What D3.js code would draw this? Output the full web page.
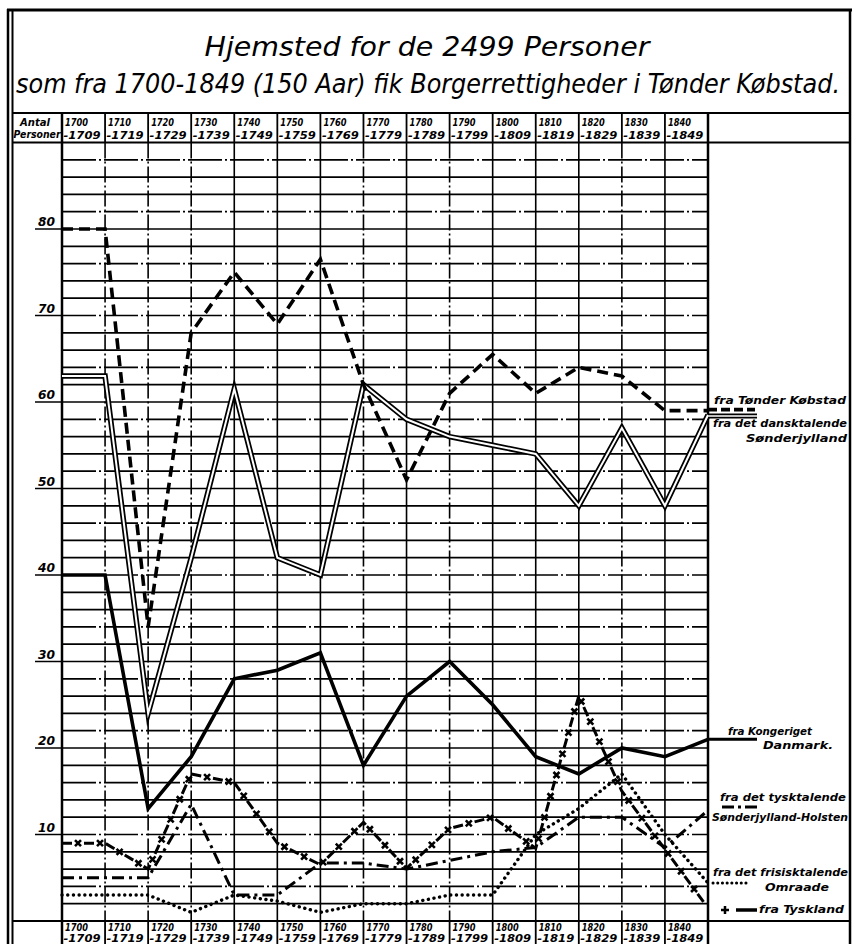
<!DOCTYPE html>
<html>
<head>
<meta charset="utf-8">
<script src="https://cdn.jsdelivr.net/npm/d3@7"></script>
<style>
  body { margin: 0; background: #fff; }
  svg { display: block; }
  text { font-family: "DejaVu Sans Condensed", "DejaVu Sans", sans-serif; font-style: italic; fill: #000; }
</style>
</head>
<body>
<svg id="chart" width="855" height="944"></svg>
<script>
// -------------------------
// Data (values per 10-year period)
// -------------------------
const periods = ["1700-1709", "1710-1719", "1720-1729", "1730-1739", "1740-1749",
    "1750-1759", "1760-1769", "1770-1779", "1780-1789", "1790-1799",
    "1800-1809", "1810-1819", "1820-1829", "1830-1839", "1840-1849"];
const yTicks = [10, 20, 30, 40, 50, 60, 70, 80];

const tonderKobstad = [80, 34, 68, 75, 69, 76.5, 62, 51, 61, 65.5, 61, 64, 63, 59, 59];
const danskSonderjylland = [63, 24, 42, 61.5, 42, 40, 62, 58, 56, 55, 54, 48, 57, 48, 58.5];
const kongerigetDanmark = [40, 13, 19, 28, 29, 31, 18, 26, 30, 25, 19, 17, 20, 19, 21];
const tyskSonderjylland = [5, 5, 13.5, 3, 3, 6.7, 6.7, 6, 7, 8, 8.5, 12, 12, 8.5, 12.8];
const frisiskOmraade = [3, 3, 1, 3, 2.3, 1, 2, 2, 3, 3, 10, 13, 17, 10, 4.4];
const tyskland = [9, 6, 17, 16, 9, 6.5, 11.4, 6.1, 10.7, 12, 8.4, 26, 15, 8.3, 1.5];

// -------------------------
// Layout
// -------------------------
const svg = d3.select("#chart");
const LEFT = 62, RIGHT = 708, FRAME_L = 12.5, FRAME_R = 850;
const HEAD_TOP = 113, BOTTOM_ROW = 921;

const x = d3.scaleLinear().domain([0, periods.length]).range([LEFT, RIGHT]);
const y = d3.scaleLinear().domain([0, 90]).range([BOTTOM_ROW, 142.5]);
const HEAD_BOT = y(90);

// each period value is plotted at the end of its decade, with a flat lead-in
const pts = vals => [[0, vals[0]], ...vals.map((v, i) => [i + 1, v])];
const line = d3.line().x(d => x(d[0])).y(d => y(d[1]));

// -------------------------
// Frame
// -------------------------
const frame = svg.append("g").attr("stroke", "#000").attr("fill", "none");
frame.append("line").attr("x1", 7).attr("x2", 852).attr("y1", 10).attr("y2", 10).attr("stroke-width", 3);
frame.append("line").attr("x1", 8).attr("x2", 8).attr("y1", 9).attr("y2", 944).attr("stroke-width", 2.5);
frame.append("line").attr("x1", FRAME_L).attr("x2", FRAME_L).attr("y1", 10).attr("y2", 944).attr("stroke-width", 2);
frame.append("line").attr("x1", FRAME_R).attr("x2", FRAME_R).attr("y1", 9).attr("y2", 944).attr("stroke-width", 2.5);

// title
svg.append("text").attr("x", 427).attr("y", 56).attr("text-anchor", "middle")
    .attr("font-size", 27).attr("textLength", 445).attr("lengthAdjust", "spacingAndGlyphs")
    .text("Hjemsted for de 2499 Personer");
svg.append("text").attr("x", 16).attr("y", 93)
    .attr("font-size", 27).attr("textLength", 824).attr("lengthAdjust", "spacingAndGlyphs")
    .text("som fra 1700-1849 (150 Aar) fik Borgerrettigheder i Tønder Købstad.");

// -------------------------
// Grid
// -------------------------
const grid = svg.append("g").attr("stroke", "#000").attr("fill", "none");
d3.range(2, 90, 2).forEach((v, i) => {
    grid.append("line")
        .attr("x1", LEFT).attr("x2", RIGHT).attr("y1", y(v)).attr("y2", y(v))
        .attr("stroke-width", 1.7)
        .attr("stroke-dasharray", i % 3 === 1 ? "34,3,2,3" : null);
});
const dashedCols = [1, 2, 3, 7, 9, 13];
d3.range(1, periods.length).forEach(i => {
    grid.append("line")
        .attr("x1", x(i)).attr("x2", x(i)).attr("y1", HEAD_BOT).attr("y2", BOTTOM_ROW)
        .attr("stroke-width", 1.6)
        .attr("stroke-dasharray", dashedCols.includes(i) ? "16,3,2,3" : null);
});

// header and bottom rows
const rows = svg.append("g").attr("stroke", "#000").attr("fill", "none");
[HEAD_TOP, HEAD_BOT, BOTTOM_ROW].forEach(yy => {
    rows.append("line").attr("x1", FRAME_L).attr("x2", FRAME_R).attr("y1", yy).attr("y2", yy).attr("stroke-width", 2.2);
});
d3.range(0, periods.length + 1).forEach(i => {
    const w = (i === 0 || i === periods.length) ? 2.5 : 1.8;
    rows.append("line").attr("x1", x(i)).attr("x2", x(i)).attr("y1", HEAD_TOP).attr("y2", HEAD_BOT).attr("stroke-width", w);
    rows.append("line").attr("x1", x(i)).attr("x2", x(i)).attr("y1", BOTTOM_ROW).attr("y2", 944).attr("stroke-width", w);
});
rows.append("line").attr("x1", LEFT).attr("x2", LEFT).attr("y1", HEAD_BOT).attr("y2", BOTTOM_ROW).attr("stroke-width", 2.5);
rows.append("line").attr("x1", RIGHT).attr("x2", RIGHT).attr("y1", HEAD_BOT).attr("y2", BOTTOM_ROW).attr("stroke-width", 2.5);

// period labels (top and bottom)
const lab = svg.append("g").attr("font-weight", "bold");
periods.forEach((p, i) => {
    const [a, b] = p.split("-");
    [[126, 138.5, 10.5], [930.5, 941.5, 10]].forEach(([y1, y2, fs]) => {
        lab.append("text").attr("x", x(i) + 3).attr("y", y1).attr("font-size", fs).text(a)
            .attr("textLength", 23).attr("lengthAdjust", "spacingAndGlyphs");
        lab.append("text").attr("x", x(i) + 1.5).attr("y", y2).attr("font-size", fs).text("-" + b)
            .attr("textLength", 37).attr("lengthAdjust", "spacingAndGlyphs");
    });
});
lab.append("text").attr("x", 20).attr("y", 126).attr("font-size", 10).text("Antal")
    .attr("textLength", 30).attr("lengthAdjust", "spacingAndGlyphs");
lab.append("text").attr("x", 13.5).attr("y", 138).attr("font-size", 10).text("Personer")
    .attr("textLength", 47).attr("lengthAdjust", "spacingAndGlyphs");

// y labels
const yl = svg.append("g");
yTicks.forEach(v => {
    yl.append("line").attr("x1", 35).attr("x2", LEFT).attr("y1", y(v)).attr("y2", y(v))
        .attr("stroke", "#000").attr("stroke-width", 1.5);
    yl.append("text").attr("x", 38).attr("y", y(v) - 3).attr("font-size", 13).attr("font-weight", "bold")
        .attr("textLength", 17).attr("lengthAdjust", "spacingAndGlyphs").text(v);
});

// -------------------------
// Series
// -------------------------
const plot = svg.append("g").attr("fill", "none").attr("stroke", "#000");

plot.append("path").attr("d", line(pts(frisiskOmraade)))
    .attr("stroke-width", 3.4).attr("stroke-dasharray", "0.1,5.6").attr("stroke-linecap", "round");

plot.append("path").attr("d", line(pts(tyskSonderjylland)))
    .attr("stroke-width", 3).attr("stroke-dasharray", "12,5,3,5");

const tyskPath = plot.append("path").attr("d", line(pts(tyskland)))
    .attr("stroke-width", 3).attr("stroke-dasharray", "10,12");
const tyskLen = tyskPath.node().getTotalLength();
for (let s = 16; s < tyskLen - 4; s += 22) {
    const p = tyskPath.node().getPointAtLength(s);
    plot.append("path").attr("d", "M-3,-3L3,3M-3,3L3,-3")
        .attr("transform", `translate(${p.x},${p.y})`).attr("stroke-width", 2.6);
}

plot.append("path").attr("d", line(pts(kongerigetDanmark)))
    .attr("stroke-width", 3.6).attr("stroke-linejoin", "miter");

const dansk = line(pts(danskSonderjylland));
plot.append("path").attr("d", dansk).attr("stroke-width", 5.5).attr("stroke-miterlimit", 8);
plot.append("path").attr("d", dansk).attr("stroke", "#fff").attr("stroke-width", 2).attr("stroke-miterlimit", 8);

plot.append("path").attr("d", line(pts(tonderKobstad)))
    .attr("stroke-width", 3.6).attr("stroke-dasharray", "11,6");

// -------------------------
// Labels on the right
// -------------------------
const last = arr => arr[arr.length - 1];
const leg = svg.append("g").attr("fill", "none").attr("stroke", "#000");
leg.append("line").attr("x1", RIGHT).attr("x2", 755).attr("y1", y(last(tonderKobstad)) - 1).attr("y2", y(last(tonderKobstad)) - 1)
    .attr("stroke-width", 3.6).attr("stroke-dasharray", "9,4");
leg.append("line").attr("x1", RIGHT).attr("x2", 757).attr("y1", y(last(danskSonderjylland)) + 1).attr("y2", y(last(danskSonderjylland)) + 1)
    .attr("stroke-width", 5);
leg.append("line").attr("x1", RIGHT).attr("x2", 757).attr("y1", y(last(danskSonderjylland)) + 1).attr("y2", y(last(danskSonderjylland)) + 1)
    .attr("stroke", "#fff").attr("stroke-width", 1.6);
leg.append("line").attr("x1", RIGHT).attr("x2", 757).attr("y1", y(last(kongerigetDanmark))).attr("y2", y(last(kongerigetDanmark)))
    .attr("stroke-width", 3);
leg.append("line").attr("x1", 722).attr("x2", 757).attr("y1", 807).attr("y2", 807)
    .attr("stroke-width", 3).attr("stroke-dasharray", "12,4,3,4");
leg.append("line").attr("x1", 713).attr("x2", 748).attr("y1", y(last(frisiskOmraade))).attr("y2", y(last(frisiskOmraade)))
    .attr("stroke-width", 3).attr("stroke-dasharray", "0.1,4.6").attr("stroke-linecap", "round");
leg.append("path").attr("d", "M-4,0H4M0,-4V4").attr("transform", "translate(725,910)").attr("stroke-width", 2.5);
leg.append("line").attr("x1", 736).attr("x2", 757).attr("y1", 910).attr("y2", 910).attr("stroke-width", 3.5);

const names = [
    ["fra Tønder Købstad", 714, 404, 132],
    ["fra det dansktalende", 713, 427, 134],
    ["Sønderjylland", 746, 442, 101],
    ["fra Kongeriget", 728, 735, 84],
    ["Danmark.", 763, 749, 70],
    ["fra det tysktalende", 720, 801, 126],
    ["Sønderjylland-Holsten", 712, 821, 136],
    ["fra det frisisktalende", 713, 876, 135],
    ["Omraade", 765, 891, 64],
    ["fra Tyskland", 759, 913, 85]
];
const nm = svg.append("g").attr("font-weight", "bold").attr("font-size", 11);
names.forEach(([t, tx, ty, tl]) => {
    nm.append("text").attr("x", tx).attr("y", ty).attr("textLength", tl)
        .attr("lengthAdjust", "spacingAndGlyphs").text(t);
});
</script>
</body>
</html>
